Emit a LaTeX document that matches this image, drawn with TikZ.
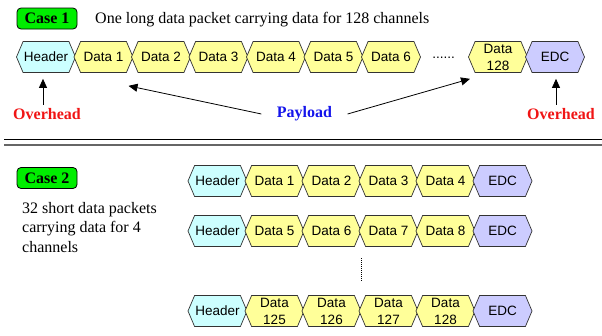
\documentclass[tikz,border=0pt]{standalone}
\usepackage{fontspec}
\setmainfont{Liberation Serif}
\setsansfont{Liberation Sans}
\usetikzlibrary{arrows.meta}
\usetikzlibrary{shapes.symbols}

\definecolor{hdrcol}{RGB}{204,255,255}
\definecolor{datcol}{RGB}{255,255,153}
\definecolor{edccol}{RGB}{204,204,255}
\definecolor{casecol}{RGB}{0,238,0}
\definecolor{ovhcol}{RGB}{240,20,20}
\definecolor{paycol}{RGB}{20,20,235}

\tikzset{
  cell/.style={signal, signal to=east and west, signal pointer angle=134,
    draw=black!80, line width=0.7pt, minimum width=59pt, minimum height=31pt,
    inner sep=0pt, align=center, font=\sffamily\fontsize{13.5}{17}\selectfont},
  hdr/.style={cell, fill=hdrcol},
  dat/.style={cell, fill=datcol},
  edc/.style={cell, fill=edccol},
  casebox/.style={draw, line width=0.8pt, rounded corners=4pt, fill=casecol,
    minimum width=60pt, minimum height=21pt, inner sep=0pt,
    font=\bfseries\fontsize{16}{19}\selectfont},
  note/.style={inner sep=0pt, font=\fontsize{16}{19.5}\selectfont},
  ovh/.style={text=ovhcol, font=\bfseries\fontsize{16}{19}\selectfont},
  pay/.style={text=paycol, font=\bfseries\fontsize{16}{19}\selectfont},
  arr/.style={-{Triangle[length=9pt,width=8pt]}, line width=0.8pt},
}

\begin{document}
\begin{tikzpicture}[x=1pt, y=-1pt]
  \useasboundingbox (0,0) rectangle (602,335);

  % case 1: one long packet
  \node[casebox] (case1) at (47,18.5) {Case 1};
  \node[note, anchor=base west] (txt1) at (95,23) {One long data packet carrying data for 128 channels};

  \node[hdr] (h) at (46,57) {Header};
  \node[dat] (d1) at (103.5,57) {Data 1};
  \node[dat] (d2) at (161,57) {Data 2};
  \node[dat] (d3) at (218.5,57) {Data 3};
  \node[dat] (d4) at (276,57) {Data 4};
  \node[dat] (d5) at (333.5,57) {Data 5};
  \node[dat] (d6) at (391,57) {Data 6};
  \node[font=\sffamily\fontsize{13.5}{16}\selectfont] (gap) at (443.5,58) {......};
  \node[dat] (d128) at (498,57) {Data\\128};
  \node[edc] (e) at (555,57) {EDC};

  \node[ovh] (ovl) at (47,114) {Overhead};
  \node[pay] (pay) at (304.5,114) {Payload};
  \node[ovh] (ovr) at (561,114) {Overhead};

  \draw[arr, shorten >=6pt] ([xshift=-4pt]ovl.north) -- ([xshift=-4pt]ovl.north |- h.south);
  \draw[arr, shorten >=6pt] ([xshift=-5pt]ovr.north) -- ([xshift=-5pt]ovr.north |- e.south);
  \draw[arr] ([xshift=-12pt]pay.west) -- ([xshift=25pt,yshift=-13pt]d1.south);
  \draw[arr] ([xshift=12pt]pay.east) -- ([xshift=-28pt,yshift=-6pt]d128.south);

  \draw[line width=0.8pt] (4,139) -- (602,139);
  \draw[line width=1.2pt, black!60] (4,145) -- (602,145);

  % case 2: 32 short packets
  \node[casebox] (case2) at (47,178) {Case 2};
  \node[note, anchor=north west, align=left] (txt2) at (22,202) {32 short data packets\\carrying data for 4\\channels};

  \node[hdr] (ha) at (217.5,181) {Header};
  \node[dat] (da1) at (274.5,181) {Data 1};
  \node[dat] (da2) at (331.5,181) {Data 2};
  \node[dat] (da3) at (388.5,181) {Data 3};
  \node[dat] (da4) at (445.5,181) {Data 4};
  \node[edc] (ea) at (502.5,181) {EDC};

  \node[hdr] (hb) at (217.5,231) {Header};
  \node[dat] (db5) at (274.5,231) {Data 5};
  \node[dat] (db6) at (331.5,231) {Data 6};
  \node[dat] (db7) at (388.5,231) {Data 7};
  \node[dat] (db8) at (445.5,231) {Data 8};
  \node[edc] (eb) at (502.5,231) {EDC};

  \draw[densely dotted, line width=1pt] (361,258) -- (361,281);

  \node[hdr] (hc) at (217.5,311) {Header};
  \node[dat] (dc125) at (274.5,311) {Data\\125};
  \node[dat] (dc126) at (331.5,311) {Data\\126};
  \node[dat] (dc127) at (388.5,311) {Data\\127};
  \node[dat] (dc128) at (445.5,311) {Data\\128};
  \node[edc] (ec) at (502.5,311) {EDC};
\end{tikzpicture}
\end{document}
